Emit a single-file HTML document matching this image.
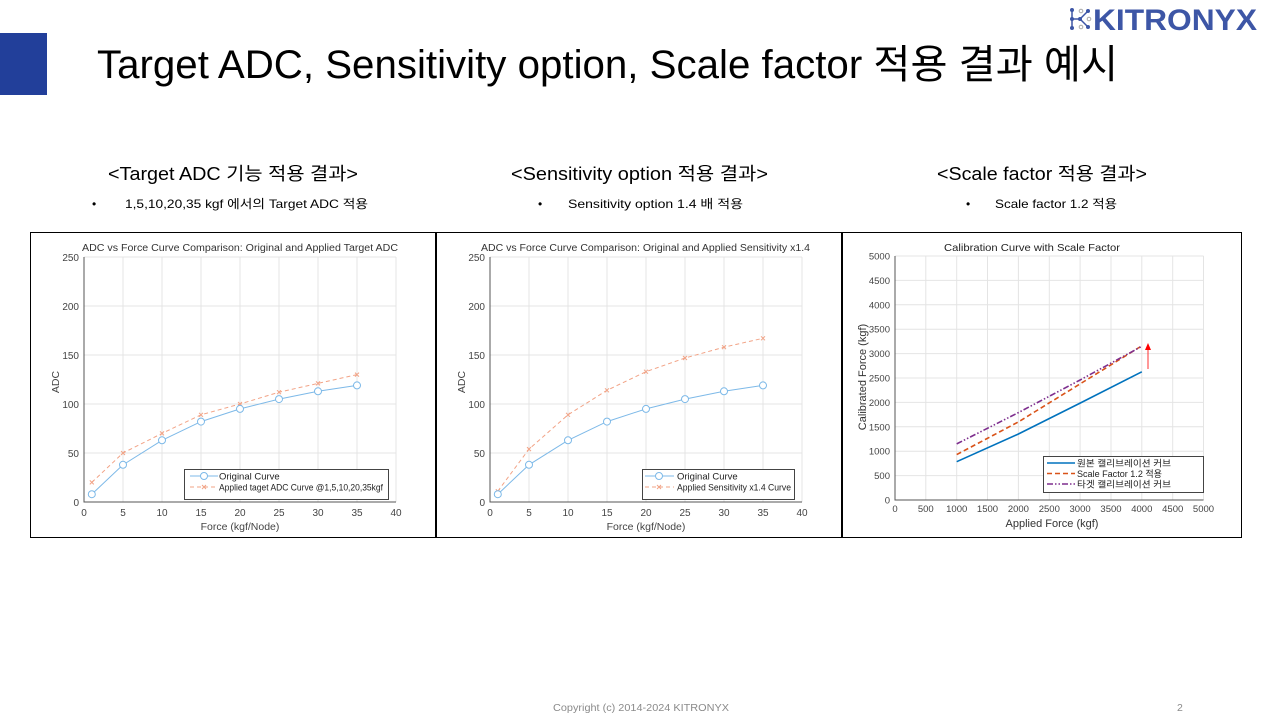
<!DOCTYPE html>
<html><head><meta charset="utf-8"><style>
html,body{margin:0;padding:0;background:#fff;}
svg{display:block;}
text{font-family:"Liberation Sans","Noto Sans CJK KR",sans-serif;}
</style></head><body>
<svg width="1280" height="720" viewBox="0 0 1280 720" xmlns="http://www.w3.org/2000/svg">
<rect x="0" y="0" width="1280" height="720" fill="#fff"/>
<!-- header -->
<rect x="0" y="33" width="47" height="62" fill="#223f9a"/>
<text x="97" y="78" font-size="40" fill="#000" textLength="1021" lengthAdjust="spacingAndGlyphs">Target ADC, Sensitivity option, Scale factor 적용 결과 예시</text>
<!-- logo -->
<g stroke="#3d56a6" stroke-width="1.5" fill="none">
<line x1="1072" y1="10" x2="1072" y2="28"/>
<line x1="1072" y1="19" x2="1080" y2="19"/>
<line x1="1080" y1="19" x2="1088" y2="11"/>
<line x1="1080" y1="19" x2="1088" y2="27"/>
</g>
<circle cx="1072" cy="10" r="2" fill="#3d56a6"/>
<circle cx="1072" cy="19" r="2" fill="#3d56a6"/>
<circle cx="1072" cy="28" r="2" fill="#3d56a6"/>
<circle cx="1080" cy="19" r="2" fill="#3d56a6"/>
<circle cx="1081" cy="11" r="1.8" fill="none" stroke="#aaa" stroke-width="1"/>
<circle cx="1081" cy="27" r="1.8" fill="none" stroke="#aaa" stroke-width="1"/>
<circle cx="1089" cy="19" r="1.8" fill="none" stroke="#aaa" stroke-width="1"/>
<circle cx="1088" cy="11" r="2" fill="#3d56a6"/>
<circle cx="1088" cy="27" r="2" fill="#3d56a6"/>
<text x="1093" y="30" font-size="30" font-weight="bold" fill="#3d56a6" textLength="164" lengthAdjust="spacingAndGlyphs">KITRONYX</text>

<!-- subtitles -->
<text x="108" y="180" font-size="18" fill="#000" textLength="250" lengthAdjust="spacingAndGlyphs">&lt;Target ADC 기능 적용 결과&gt;</text>
<text x="92" y="208" font-size="12" fill="#000">•</text>
<text x="125" y="208" font-size="12" fill="#000" textLength="243" lengthAdjust="spacingAndGlyphs">1,5,10,20,35  kgf 에서의 Target ADC 적용</text>

<text x="511" y="180" font-size="18" fill="#000" textLength="257" lengthAdjust="spacingAndGlyphs">&lt;Sensitivity option 적용 결과&gt;</text>
<text x="538" y="208" font-size="12" fill="#000">•</text>
<text x="568" y="208" font-size="12" fill="#000" textLength="175" lengthAdjust="spacingAndGlyphs">Sensitivity  option 1.4 배 적용</text>

<text x="937" y="180" font-size="18" fill="#000" textLength="210" lengthAdjust="spacingAndGlyphs">&lt;Scale factor 적용 결과&gt;</text>
<text x="966" y="208" font-size="12" fill="#000">•</text>
<text x="995" y="208" font-size="12" fill="#000" textLength="122" lengthAdjust="spacingAndGlyphs">Scale  factor 1.2 적용</text>

<!-- footer -->
<text x="553" y="711" font-size="10.5" fill="#8a8a8a" textLength="176" lengthAdjust="spacingAndGlyphs">Copyright (c) 2014-2024 KITRONYX</text>
<text x="1177" y="711" font-size="10.5" fill="#8a8a8a">2</text>

<!-- ============ CHART 1 ============ -->
<rect x="30.5" y="232.5" width="405" height="305" fill="#fff" stroke="#000" stroke-width="1"/>
<g stroke="#e4e4e4" stroke-width="1">
<line x1="123" y1="257" x2="123" y2="502"/><line x1="162" y1="257" x2="162" y2="502"/>
<line x1="201" y1="257" x2="201" y2="502"/><line x1="240" y1="257" x2="240" y2="502"/>
<line x1="279" y1="257" x2="279" y2="502"/><line x1="318" y1="257" x2="318" y2="502"/>
<line x1="357" y1="257" x2="357" y2="502"/><line x1="396" y1="257" x2="396" y2="502"/>
<line x1="84" y1="257" x2="396" y2="257"/><line x1="84" y1="306" x2="396" y2="306"/>
<line x1="84" y1="355" x2="396" y2="355"/><line x1="84" y1="404" x2="396" y2="404"/>
<line x1="84" y1="453" x2="396" y2="453"/>
</g>
<g stroke="#555" stroke-width="1"><line x1="84" y1="257" x2="84" y2="502.5"/><line x1="83.5" y1="502" x2="396" y2="502"/></g>
<g font-size="10" fill="#444" text-anchor="end">
<text x="79" y="506">0</text><text x="79" y="457">50</text><text x="79" y="408">100</text>
<text x="79" y="359">150</text><text x="79" y="310">200</text><text x="79" y="261">250</text>
</g>
<g font-size="10" fill="#444" text-anchor="middle">
<text x="84" y="516">0</text><text x="123" y="516">5</text><text x="162" y="516">10</text>
<text x="201" y="516">15</text><text x="240" y="516">20</text><text x="279" y="516">25</text>
<text x="318" y="516">30</text><text x="357" y="516">35</text><text x="396" y="516">40</text>
</g>
<text x="240" y="530" font-size="10.5" fill="#444" text-anchor="middle">Force (kgf/Node)</text>
<text transform="translate(59,382) rotate(-90)" font-size="10.5" fill="#444" text-anchor="middle">ADC</text>
<text x="240" y="251" font-size="10" fill="#333" text-anchor="middle" textLength="316" lengthAdjust="spacingAndGlyphs">ADC vs Force Curve Comparison: Original and Applied Target ADC</text>
<polyline fill="none" stroke="#f2a386" stroke-width="1" stroke-dasharray="4,3" points="91.8,482.4 123,453 162,433.4 201,414.8 240,404 279,392.2 318,383.4 357,374.6"/>
<g stroke="#f2a386" stroke-width="1">
<path d="M89.8,480.4l4,4m0,-4l-4,4M121,451l4,4m0,-4l-4,4M160,431.4l4,4m0,-4l-4,4M199,412.8l4,4m0,-4l-4,4M238,402l4,4m0,-4l-4,4M277,390.2l4,4m0,-4l-4,4M316,381.4l4,4m0,-4l-4,4M355,372.6l4,4m0,-4l-4,4"/>
</g>
<polyline fill="none" stroke="#7db9e8" stroke-width="1" points="91.8,494.2 123,464.8 162,440.3 201,421.6 240,408.9 279,399.1 318,391.3 357,385.4"/>
<g fill="#fff" stroke="#7db9e8" stroke-width="1">
<circle cx="91.8" cy="494.2" r="3.5"/><circle cx="123" cy="464.8" r="3.5"/><circle cx="162" cy="440.3" r="3.5"/>
<circle cx="201" cy="421.6" r="3.5"/><circle cx="240" cy="408.9" r="3.5"/><circle cx="279" cy="399.1" r="3.5"/>
<circle cx="318" cy="391.3" r="3.5"/><circle cx="357" cy="385.4" r="3.5"/>
</g>
<rect x="184.5" y="469.5" width="204" height="30" fill="#fff" stroke="#444" stroke-width="1"/>
<line x1="190" y1="476" x2="218" y2="476" stroke="#7db9e8"/><circle cx="204" cy="476" r="3.5" fill="#fff" stroke="#7db9e8"/>
<line x1="190" y1="487" x2="218" y2="487" stroke="#f2a386" stroke-dasharray="4,3"/><path d="M202,485l4,4m0,-4l-4,4" stroke="#f2a386"/>
<text x="219" y="479.5" font-size="9.5" fill="#222">Original Curve</text>
<text x="219" y="490.5" font-size="9.5" fill="#222" textLength="164" lengthAdjust="spacingAndGlyphs">Applied taget ADC Curve @1,5,10,20,35kgf</text>

<!-- ============ CHART 2 ============ -->
<rect x="436.5" y="232.5" width="405" height="305" fill="#fff" stroke="#000" stroke-width="1"/>
<g stroke="#e4e4e4" stroke-width="1">
<line x1="529" y1="257" x2="529" y2="502"/><line x1="568" y1="257" x2="568" y2="502"/>
<line x1="607" y1="257" x2="607" y2="502"/><line x1="646" y1="257" x2="646" y2="502"/>
<line x1="685" y1="257" x2="685" y2="502"/><line x1="724" y1="257" x2="724" y2="502"/>
<line x1="763" y1="257" x2="763" y2="502"/><line x1="802" y1="257" x2="802" y2="502"/>
<line x1="490" y1="257" x2="802" y2="257"/><line x1="490" y1="306" x2="802" y2="306"/>
<line x1="490" y1="355" x2="802" y2="355"/><line x1="490" y1="404" x2="802" y2="404"/>
<line x1="490" y1="453" x2="802" y2="453"/>
</g>
<g stroke="#555" stroke-width="1"><line x1="490" y1="257" x2="490" y2="502.5"/><line x1="489.5" y1="502" x2="802" y2="502"/></g>
<g font-size="10" fill="#444" text-anchor="end">
<text x="485" y="506">0</text><text x="485" y="457">50</text><text x="485" y="408">100</text>
<text x="485" y="359">150</text><text x="485" y="310">200</text><text x="485" y="261">250</text>
</g>
<g font-size="10" fill="#444" text-anchor="middle">
<text x="490" y="516">0</text><text x="529" y="516">5</text><text x="568" y="516">10</text>
<text x="607" y="516">15</text><text x="646" y="516">20</text><text x="685" y="516">25</text>
<text x="724" y="516">30</text><text x="763" y="516">35</text><text x="802" y="516">40</text>
</g>
<text x="646" y="530" font-size="10.5" fill="#444" text-anchor="middle">Force (kgf/Node)</text>
<text transform="translate(465,382) rotate(-90)" font-size="10.5" fill="#444" text-anchor="middle">ADC</text>
<text x="645.5" y="251" font-size="10" fill="#333" text-anchor="middle" textLength="329" lengthAdjust="spacingAndGlyphs">ADC vs Force Curve Comparison: Original and Applied Sensitivity x1.4</text>
<polyline fill="none" stroke="#f2a386" stroke-width="1" stroke-dasharray="4,3" points="497.8,491.2 529,449.1 568,414.8 607,390.3 646,371.7 685,358 724,347.2 763,338.3"/>
<g stroke="#f2a386" stroke-width="1">
<path d="M495.8,489.2l4,4m0,-4l-4,4M527,447.1l4,4m0,-4l-4,4M566,412.8l4,4m0,-4l-4,4M605,388.3l4,4m0,-4l-4,4M644,369.7l4,4m0,-4l-4,4M683,356l4,4m0,-4l-4,4M722,345.2l4,4m0,-4l-4,4M761,336.3l4,4m0,-4l-4,4"/>
</g>
<polyline fill="none" stroke="#7db9e8" stroke-width="1" points="497.8,494.2 529,464.8 568,440.3 607,421.6 646,408.9 685,399.1 724,391.3 763,385.4"/>
<g fill="#fff" stroke="#7db9e8" stroke-width="1">
<circle cx="497.8" cy="494.2" r="3.5"/><circle cx="529" cy="464.8" r="3.5"/><circle cx="568" cy="440.3" r="3.5"/>
<circle cx="607" cy="421.6" r="3.5"/><circle cx="646" cy="408.9" r="3.5"/><circle cx="685" cy="399.1" r="3.5"/>
<circle cx="724" cy="391.3" r="3.5"/><circle cx="763" cy="385.4" r="3.5"/>
</g>
<rect x="642.5" y="469.5" width="152" height="30" fill="#fff" stroke="#444" stroke-width="1"/>
<line x1="645" y1="476" x2="674" y2="476" stroke="#7db9e8"/><circle cx="659" cy="476" r="3.5" fill="#fff" stroke="#7db9e8"/>
<line x1="645" y1="487" x2="674" y2="487" stroke="#f2a386" stroke-dasharray="4,3"/><path d="M657,485l4,4m0,-4l-4,4" stroke="#f2a386"/>
<text x="677" y="479.5" font-size="9.5" fill="#222">Original Curve</text>
<text x="677" y="490.5" font-size="9.5" fill="#222" textLength="114" lengthAdjust="spacingAndGlyphs">Applied Sensitivity x1.4 Curve</text>

<!-- ============ CHART 3 ============ -->
<rect x="842.5" y="232.5" width="399" height="305" fill="#fff" stroke="#000" stroke-width="1"/>
<g stroke="#e4e4e4" stroke-width="1">
<line x1="925.8" y1="256" x2="925.8" y2="500"/><line x1="956.7" y1="256" x2="956.7" y2="500"/>
<line x1="987.5" y1="256" x2="987.5" y2="500"/><line x1="1018.4" y1="256" x2="1018.4" y2="500"/>
<line x1="1049.3" y1="256" x2="1049.3" y2="500"/><line x1="1080.1" y1="256" x2="1080.1" y2="500"/>
<line x1="1111" y1="256" x2="1111" y2="500"/><line x1="1141.8" y1="256" x2="1141.8" y2="500"/>
<line x1="1172.7" y1="256" x2="1172.7" y2="500"/><line x1="1203.5" y1="256" x2="1203.5" y2="500"/>
<line x1="895" y1="256" x2="1203.5" y2="256"/><line x1="895" y1="280.4" x2="1203.5" y2="280.4"/>
<line x1="895" y1="304.8" x2="1203.5" y2="304.8"/><line x1="895" y1="329.2" x2="1203.5" y2="329.2"/>
<line x1="895" y1="353.6" x2="1203.5" y2="353.6"/><line x1="895" y1="378" x2="1203.5" y2="378"/>
<line x1="895" y1="402.4" x2="1203.5" y2="402.4"/><line x1="895" y1="426.8" x2="1203.5" y2="426.8"/>
<line x1="895" y1="451.2" x2="1203.5" y2="451.2"/><line x1="895" y1="475.6" x2="1203.5" y2="475.6"/>
</g>
<g stroke="#555" stroke-width="1"><line x1="895" y1="256" x2="895" y2="500.5"/><line x1="894.5" y1="500" x2="1203.5" y2="500"/></g>
<g font-size="9.5" fill="#444" text-anchor="end">
<text x="890" y="503.5">0</text><text x="890" y="479">500</text><text x="890" y="454.7">1000</text>
<text x="890" y="430.3">1500</text><text x="890" y="405.9">2000</text><text x="890" y="381.5">2500</text>
<text x="890" y="357.1">3000</text><text x="890" y="332.7">3500</text><text x="890" y="308.3">4000</text>
<text x="890" y="283.9">4500</text><text x="890" y="259.5">5000</text>
</g>
<g font-size="9.5" fill="#444" text-anchor="middle">
<text x="895" y="512">0</text><text x="925.8" y="512">500</text><text x="956.7" y="512">1000</text>
<text x="987.5" y="512">1500</text><text x="1018.4" y="512">2000</text><text x="1049.3" y="512">2500</text>
<text x="1080.1" y="512">3000</text><text x="1111" y="512">3500</text><text x="1141.8" y="512">4000</text>
<text x="1172.7" y="512">4500</text><text x="1203.5" y="512">5000</text>
</g>
<text x="1052" y="527" font-size="11" fill="#333" text-anchor="middle">Applied Force (kgf)</text>
<text transform="translate(866,377) rotate(-90)" font-size="11" fill="#333" text-anchor="middle">Calibrated Force (kgf)</text>
<text x="1032" y="251" font-size="10.5" fill="#222" text-anchor="middle" textLength="176" lengthAdjust="spacingAndGlyphs">Calibration Curve with Scale Factor</text>
<polyline fill="none" stroke="#0072bd" stroke-width="1.6" points="956.7,461.7 1018.4,434 1080.1,403.1 1141.8,371.8"/>
<polyline fill="none" stroke="#d95319" stroke-width="1.6" stroke-dasharray="5,3" points="956.7,454.6 1018.4,421.9 1080.1,383.9 1141.8,345.8"/>
<polyline fill="none" stroke="#7e2f8e" stroke-width="1.6" stroke-dasharray="6,2,1.5,2,1.5,2" points="956.7,443.9 1018.4,412.6 1080.1,380 1141.8,346.3"/>
<line x1="1148" y1="369" x2="1148" y2="350" stroke="#ff3030" stroke-width="1"/>
<polygon points="1148,343 1145,350 1151,350" fill="#ff0000"/>
<rect x="1043.5" y="456.5" width="160" height="36" fill="#fff" stroke="#444" stroke-width="1"/>
<line x1="1047" y1="463" x2="1075" y2="463" stroke="#0072bd" stroke-width="1.6"/>
<line x1="1047" y1="473.5" x2="1075" y2="473.5" stroke="#d95319" stroke-width="1.6" stroke-dasharray="5,3"/>
<line x1="1047" y1="484" x2="1075" y2="484" stroke="#7e2f8e" stroke-width="1.6" stroke-dasharray="6,2,1.5,2,1.5,2"/>
<text x="1077" y="466.5" font-size="9" fill="#222" textLength="94" lengthAdjust="spacingAndGlyphs">원본 캘리브레이션 커브</text>
<text x="1077" y="477" font-size="9" fill="#222" textLength="85" lengthAdjust="spacingAndGlyphs">Scale Factor 1.2 적용</text>
<text x="1077" y="487.5" font-size="9" fill="#222" textLength="94" lengthAdjust="spacingAndGlyphs">타겟 캘리브레이션 커브</text>
</svg>
</body></html>
